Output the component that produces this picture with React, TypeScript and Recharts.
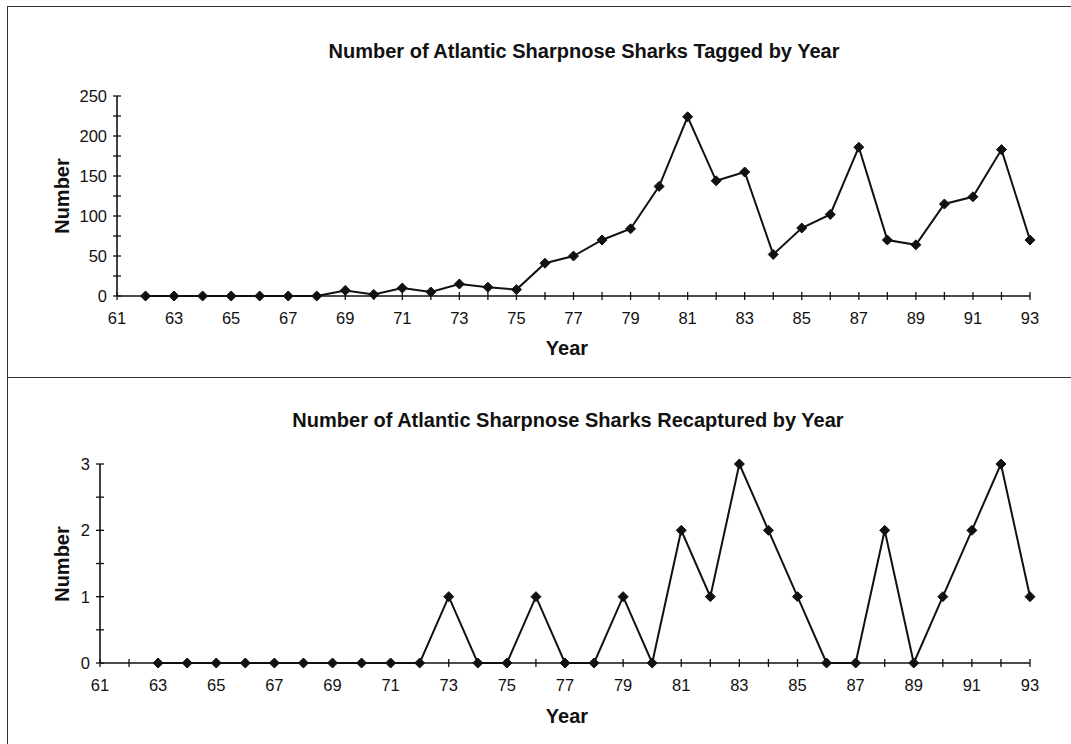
import { Line, LineChart, XAxis, YAxis } from "recharts";

const taggedYears = [62, 63, 64, 65, 66, 67, 68, 69, 70, 71, 72, 73, 74, 75, 76, 77, 78, 79, 80, 81, 82, 83, 84, 85, 86, 87, 88, 89, 90, 91, 92, 93];
const taggedCounts = [0, 0, 0, 0, 0, 0, 0, 7, 2, 10, 5, 15, 11, 8, 41, 50, 70, 84, 137, 224, 144, 155, 52, 85, 102, 186, 70, 64, 115, 124, 183, 70];

const recapYears = [63, 64, 65, 66, 67, 68, 69, 70, 71, 72, 73, 74, 75, 76, 77, 78, 79, 80, 81, 82, 83, 84, 85, 86, 87, 88, 89, 90, 91, 92, 93];
const recapCounts = [0, 0, 0, 0, 0, 0, 0, 0, 0, 0, 1, 0, 0, 1, 0, 0, 1, 0, 2, 1, 3, 2, 1, 0, 0, 2, 0, 1, 2, 3, 1];

const yearTicks = [61, 62, 63, 64, 65, 66, 67, 68, 69, 70, 71, 72, 73, 74, 75, 76, 77, 78, 79, 80, 81, 82, 83, 84, 85, 86, 87, 88, 89, 90, 91, 92, 93];
const taggedTicks = [0, 25, 50, 75, 100, 125, 150, 175, 200, 225, 250];
const recapTicks = [0, 0.5, 1, 1.5, 2, 2.5, 3];

const FONT = "'Liberation Sans', Arial, sans-serif";
const INK = "#111";
const TICK_FONT = 16.5;

const taggedData = taggedYears.map((year, i) => ({ year, value: taggedCounts[i] }));
const recapData = recapYears.map((year, i) => ({ year, value: recapCounts[i] }));

function XTick(props: any) {
  const { x, y, payload } = props;
  const show = (payload.value - 61) % 2 === 0;
  return (
    <g>
      <line x1={x} x2={x} y1={y - 4} y2={y + 4} stroke={INK} strokeWidth={1.3} />
      {show && (
        <text x={x} y={y + 28} textAnchor="middle" fontSize={TICK_FONT} fill={INK} fontFamily={FONT}>
          {payload.value}
        </text>
      )}
    </g>
  );
}

function makeYTick(step: number) {
  return function YTick(props: any) {
    const { x, y, payload } = props;
    const show = payload.value % step === 0;
    return (
      <g>
        <line x1={x - 4} x2={x + 4} y1={y} y2={y} stroke={INK} strokeWidth={1.3} />
        {show && (
          <text x={x - 10} y={y + 6} textAnchor="end" fontSize={TICK_FONT} fill={INK} fontFamily={FONT}>
            {payload.value}
          </text>
        )}
      </g>
    );
  };
}

function Diamond(props: any) {
  const { cx, cy, index } = props;
  if (cx == null || cy == null) return <g key={index} />;
  const r = 5;
  return (
    <polygon
      key={index}
      points={`${cx},${cy - r} ${cx + r},${cy} ${cx},${cy + r} ${cx - r},${cy}`}
      fill={INK}
      stroke={INK}
    />
  );
}

type PanelProps = {
  data: { year: number; value: number }[];
  domainMax: number;
  yTicks: number[];
  labelStep: number;
  height: number;
  marginTop: number;
  marginBottom: number;
  marginLeft: number;
};

function Panel({ data, domainMax, yTicks, labelStep, height, marginTop, marginBottom, marginLeft }: PanelProps) {
  return (
    <LineChart
      width={1071}
      height={height}
      data={data}
      margin={{ top: marginTop, right: 41, bottom: marginBottom, left: marginLeft }}
    >
      <XAxis
        dataKey="year"
        type="number"
        domain={[61, 93]}
        ticks={yearTicks}
        interval={0}
        tickSize={0}
        tickMargin={0}
        tickLine={false}
        tick={<XTick />}
        axisLine={{ stroke: INK, strokeWidth: 1.6 }}
        height={30}
      />
      <YAxis
        type="number"
        domain={[0, domainMax]}
        ticks={yTicks}
        interval={0}
        tickSize={0}
        tickMargin={0}
        tickLine={false}
        tick={makeYTick(labelStep)}
        axisLine={{ stroke: INK, strokeWidth: 1.6 }}
        width={40}
      />
      <Line
        type="linear"
        dataKey="value"
        stroke={INK}
        strokeWidth={2}
        dot={Diamond}
        activeDot={false}
        isAnimationActive={false}
      />
    </LineChart>
  );
}

const titleStyle: React.CSSProperties = {
  position: "absolute",
  fontFamily: FONT,
  fontWeight: "bold",
  fontSize: 20,
  color: INK,
  whiteSpace: "nowrap",
  transform: "translate(-50%, -50%)",
};

export default function App() {
  return (
    <div
      style={{
        position: "absolute",
        top: 0,
        left: 0,
        width: 1071,
        height: 744,
        background: "#fff",
        fontFamily: FONT,
        overflow: "hidden",
      }}
    >
      {/* frame */}
      <div style={{ position: "absolute", left: 8, top: 6, width: 1063, height: 0, borderTop: "1.5px solid #333" }} />
      <div style={{ position: "absolute", left: 7, top: 6, width: 0, height: 738, borderLeft: "1.5px solid #333" }} />
      <div style={{ position: "absolute", left: 8, top: 377, width: 1063, height: 0, borderTop: "1.5px solid #333" }} />

      <div style={{ position: "absolute", top: 0, left: 0 }}>
        <Panel
          data={taggedData}
          domainMax={250}
          yTicks={taggedTicks}
          labelStep={50}
          height={378}
          marginTop={96}
          marginBottom={52}
          marginLeft={77}
        />
      </div>
      <div style={{ position: "absolute", top: 378, left: 0 }}>
        <Panel
          data={recapData}
          domainMax={3}
          yTicks={recapTicks}
          labelStep={1}
          height={366}
          marginTop={86}
          marginBottom={51}
          marginLeft={60}
        />
      </div>

      <div style={{ ...titleStyle, left: 584, top: 51 }}>Number of Atlantic Sharpnose Sharks Tagged by Year</div>
      <div style={{ ...titleStyle, left: 568, top: 420 }}>Number of Atlantic Sharpnose Sharks Recaptured by Year</div>
      <div style={{ ...titleStyle, left: 567, top: 348 }}>Year</div>
      <div style={{ ...titleStyle, left: 567, top: 716 }}>Year</div>
      <div style={{ ...titleStyle, left: 62, top: 196, transform: "translate(-50%, -50%) rotate(-90deg)" }}>Number</div>
      <div style={{ ...titleStyle, left: 62, top: 564, transform: "translate(-50%, -50%) rotate(-90deg)" }}>Number</div>
    </div>
  );
}
